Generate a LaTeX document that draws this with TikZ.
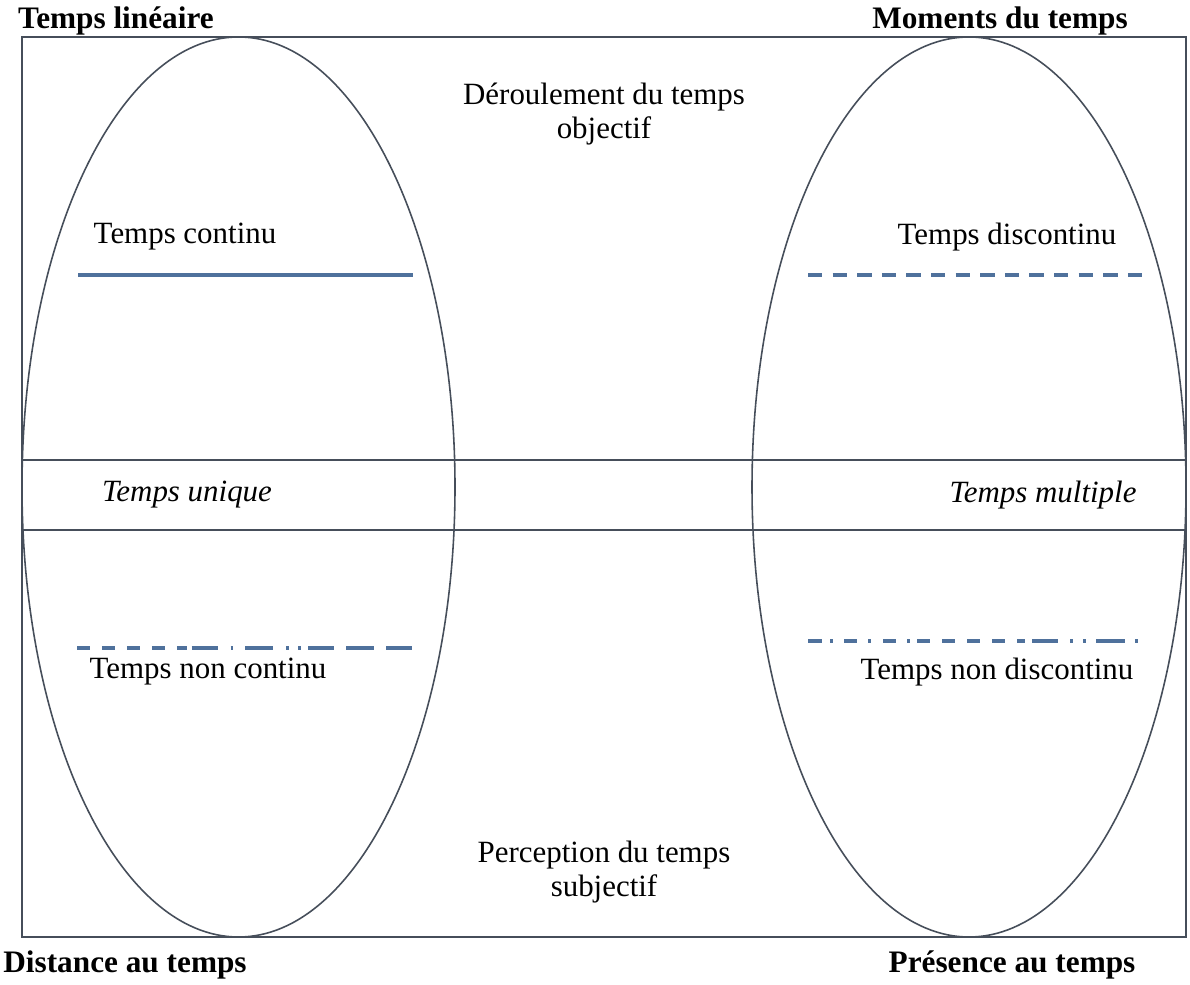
\documentclass[tikz,border=0pt]{standalone}
\usepackage{fontspec}
\setmainfont{Liberation Serif}
\definecolor{trait}{RGB}{79,113,156}
\definecolor{cadre}{RGB}{70,78,90}

\begin{document}
\begin{tikzpicture}[
  titre/.style={font=\fontsize{8.9}{10}\selectfont\bfseries},
  texte/.style={font=\fontsize{8.8}{9.5}\selectfont, align=center, inner sep=0pt},
  bord/.style={draw=cadre, line width=0.45pt},
  ligne/.style={draw=trait, line width=0.9pt}]
\useasboundingbox (0,0) rectangle (11.9,-9.85);

% cadre et ellipses
\draw[bord] (0.22,-0.37) rectangle (11.86,-9.37);
\draw[bord] (0.22,-4.60) -- (11.86,-4.60);
\draw[bord] (0.22,-5.30) -- (11.86,-5.30);
\draw[bord] (2.385,-4.87) ellipse (2.165 and 4.50);
\draw[bord] (9.69,-4.87) ellipse (2.17 and 4.50);

% titres des coins
\node[titre] (lineaire) at (1.16,-0.21) {Temps linéaire};
\node[titre] (moments) at (10.00,-0.21) {Moments du temps};
\node[titre] (distance) at (1.25,-9.65) {Distance au temps};
\node[titre] (presence) at (10.12,-9.65) {Présence au temps};

\node[texte] (objectif) at (6.04,-1.14) {Déroulement du temps\\objectif};
\node[texte] (subjectif) at (6.04,-8.72) {Perception du temps\\subjectif};

\node[texte] (continu) at (1.85,-2.37) {Temps continu};
\node[texte] (discontinu) at (10.07,-2.37) {Temps discontinu};
\node[texte, font=\fontsize{8.8}{9.5}\selectfont\itshape] (unique) at (1.87,-4.95) {Temps unique};
\node[texte, font=\fontsize{8.8}{9.5}\selectfont\itshape] (multiple) at (10.43,-4.95) {Temps multiple};
\node[texte] (noncontinu) at (2.08,-6.72) {Temps non continu};
\node[texte] (nondiscontinu) at (9.97,-6.72) {Temps non discontinu};

% les quatre traits
\coordinate (c1) at (0.78,-2.75);
\coordinate (c2) at (4.13,-2.75);
\draw[ligne] (c1) -- (c2);

\coordinate (d1) at (8.08,-2.75);
\coordinate (d2) at (11.45,-2.75);
\draw[ligne, dash pattern=on 4.1pt off 2.9pt] (d1) -- (d2);

\coordinate (n1) at (0.77,-6.48);
\coordinate (n2) at (4.12,-6.48);
\draw[ligne, dash pattern=on 3.7pt off 3.4pt on 3.7pt off 3.4pt on 3.7pt off 3.4pt on 3.7pt off 3.4pt
  on 2.8pt off 1.4pt on 7.4pt off 3.7pt on 0.8pt off 3.4pt on 8pt off 3.7pt on 0.8pt off 2.6pt
  on 0.8pt off 2pt on 7.4pt off 3.4pt on 8pt off 3.4pt on 7.7pt off 20pt] (n1) -- (n2);

\coordinate (m1) at (8.08,-6.41);
\coordinate (m2) at (11.45,-6.41);
\draw[ligne, dash pattern=on 4pt off 2.3pt on 0.9pt off 3.1pt on 3.7pt off 3.1pt on 0.9pt off 3.4pt
  on 3.7pt off 3.1pt on 0.9pt off 2pt on 3.7pt off 3.4pt on 3.7pt off 3.4pt on 3.7pt off 3.4pt
  on 3.7pt off 3.4pt on 2.3pt off 2pt on 7.4pt off 3.4pt on 0.9pt off 2.8pt on 0.9pt off 2.8pt
  on 8.2pt off 2.8pt on 0.9pt off 20pt] (m1) -- (m2);
\end{tikzpicture}
\end{document}
